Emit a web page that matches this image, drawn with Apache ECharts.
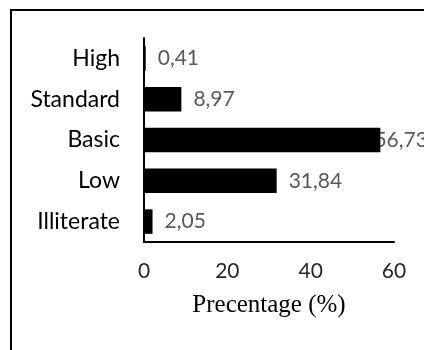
<!DOCTYPE html>
<html><head><meta charset="utf-8">
<script src="https://cdn.jsdelivr.net/npm/echarts@6/dist/echarts.min.js"></script>
<style>html,body{margin:0;padding:0;background:#fff}#c{width:424px;height:350px}</style>
</head><body><div id="c"></div>
<script>
const categories = ['High', 'Standard', 'Basic', 'Low', 'Illiterate'];
const values = [0.41, 8.97, 56.73, 31.84, 2.05];
const valueLabels = ['0,41', '8,97', '56,73', '31,84', '2,05'];
const xTicks = [0, 20, 40, 60];

const chart = echarts.init(document.getElementById('c'), null, {renderer: 'canvas'});
const labelData = values.map((v, i) => {
  const item = {value: v};
  if (categories[i] === 'Basic') item.label = {offset: [-18, 0]};
  return item;
});
chart.setOption({
  animation: false,
  grid: {left: 144, right: 30, top: 38, bottom: 108},
  graphic: [{
    type: 'rect', shape: {x: 11, y: 10, width: 600, height: 500},
    style: {fill: 'none', stroke: '#000', lineWidth: 2}, z: 100
  }],
  xAxis: {
    type: 'value', min: 0, max: 60, interval: 20,
    splitLine: {show: false},
    axisLine: {show: true, lineStyle: {color: '#000', width: 2}},
    axisTick: {show: false},
    axisLabel: {
      margin: 19, fontFamily: 'Lato', fontSize: 21, color: '#262626',
      formatter: v => xTicks.includes(v) ? String(v) : ''
    },
    name: 'Precentage (%)', nameLocation: 'middle', nameGap: 51,
    nameTextStyle: {fontFamily: 'Liberation Serif', fontSize: 25, color: '#000'}
  },
  yAxis: {
    type: 'category', data: categories, inverse: true,
    axisLine: {show: true, lineStyle: {color: '#000', width: 2}},
    axisTick: {show: false},
    axisLabel: {margin: 24, fontFamily: 'Lato', fontSize: 23, color: '#000'}
  },
  series: [{
    type: 'bar', data: labelData, barWidth: '60%', z: 1,
    itemStyle: {color: 'rgba(0,0,0,0)'},
    label: {
      show: true, position: 'right', distance: 12,
      fontFamily: 'Lato', fontSize: 21, color: '#595959',
      formatter: p => valueLabels[p.dataIndex]
    }
  }, {
    type: 'bar', data: values, barWidth: '60%', barGap: '-100%', z: 2,
    itemStyle: {color: '#000'}
  }]
});
</script></body></html>
